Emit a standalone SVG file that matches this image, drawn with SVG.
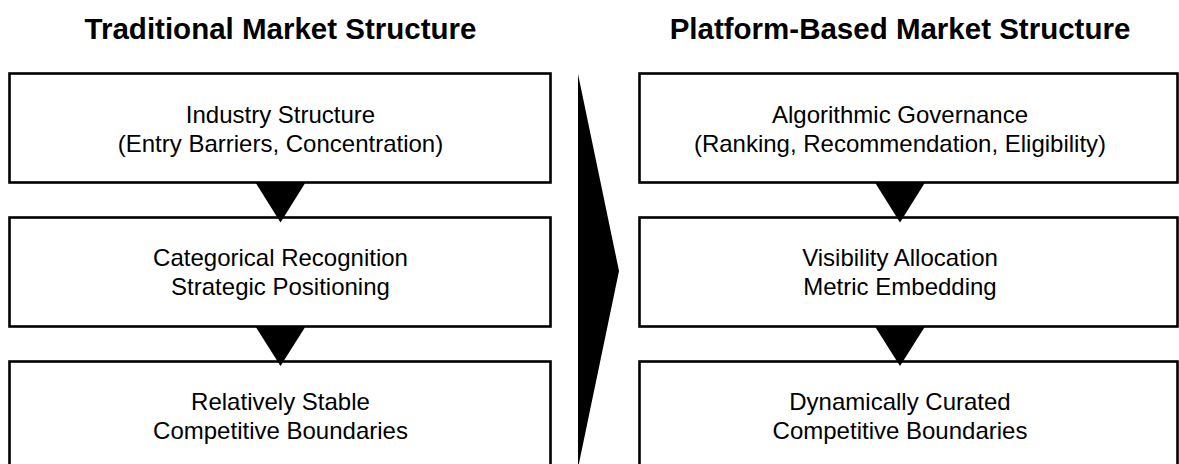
<svg xmlns="http://www.w3.org/2000/svg" width="1179" height="464" viewBox="0 0 1179 464">
  <style>
    .bg { fill: #ffffff; }
    .box { fill: #ffffff; stroke: #000000; stroke-width: 2.6; }
    .title { font-family: "Liberation Sans", Arial, Helvetica, sans-serif; font-weight: bold; font-size: 29.5px; fill: #000; text-anchor: middle; }
    .label { font-family: "Liberation Sans", Arial, Helvetica, sans-serif; font-size: 24px; fill: #000; text-anchor: middle; }
    .tri { fill: #000000; stroke: none; }
  </style>
  <rect class="bg" x="0" y="0" width="1179" height="464"/>

  <text class="title" x="280.5" y="39">Traditional Market Structure</text>
  <text class="title" x="900" y="39">Platform-Based Market Structure</text>

  <g id="node-industry-structure">
    <rect class="box" x="9.5" y="73.5" width="541" height="109"/>
    <text class="label" x="280.5" y="123">Industry Structure</text>
    <text class="label" x="280.5" y="152">(Entry Barriers, Concentration)</text>
  </g>
  <g id="node-categorical-recognition">
    <rect class="box" x="9.5" y="217.5" width="541" height="109"/>
    <text class="label" x="280.5" y="266">Categorical Recognition</text>
    <text class="label" x="280.5" y="295">Strategic Positioning</text>
  </g>
  <g id="node-stable-boundaries">
    <rect class="box" x="9.5" y="361.5" width="541" height="112"/>
    <text class="label" x="280.5" y="410">Relatively Stable</text>
    <text class="label" x="280.5" y="439">Competitive Boundaries</text>
  </g>

  <g id="node-algorithmic-governance">
    <rect class="box" x="639.5" y="73.5" width="538" height="109"/>
    <text class="label" x="900" y="123">Algorithmic Governance</text>
    <text class="label" x="900" y="152">(Ranking, Recommendation, Eligibility)</text>
  </g>
  <g id="node-visibility-allocation">
    <rect class="box" x="639.5" y="217.5" width="538" height="109"/>
    <text class="label" x="900" y="266">Visibility Allocation</text>
    <text class="label" x="900" y="295">Metric Embedding</text>
  </g>
  <g id="node-curated-boundaries">
    <rect class="box" x="639.5" y="361.5" width="538" height="112"/>
    <text class="label" x="900" y="410">Dynamically Curated</text>
    <text class="label" x="900" y="439">Competitive Boundaries</text>
  </g>

  <g id="connectors">
    <polygon class="tri" points="255.5,182.5 305.5,182.5 280.5,222.5"/>
    <polygon class="tri" points="255.5,326.5 305.5,326.5 280.5,366"/>
    <polygon class="tri" points="875,182.5 925,182.5 900,222.5"/>
    <polygon class="tri" points="875,326.5 925,326.5 900,366"/>
    <polygon class="tri" points="578,74 619,271 578,468"/>
  </g>
</svg>
